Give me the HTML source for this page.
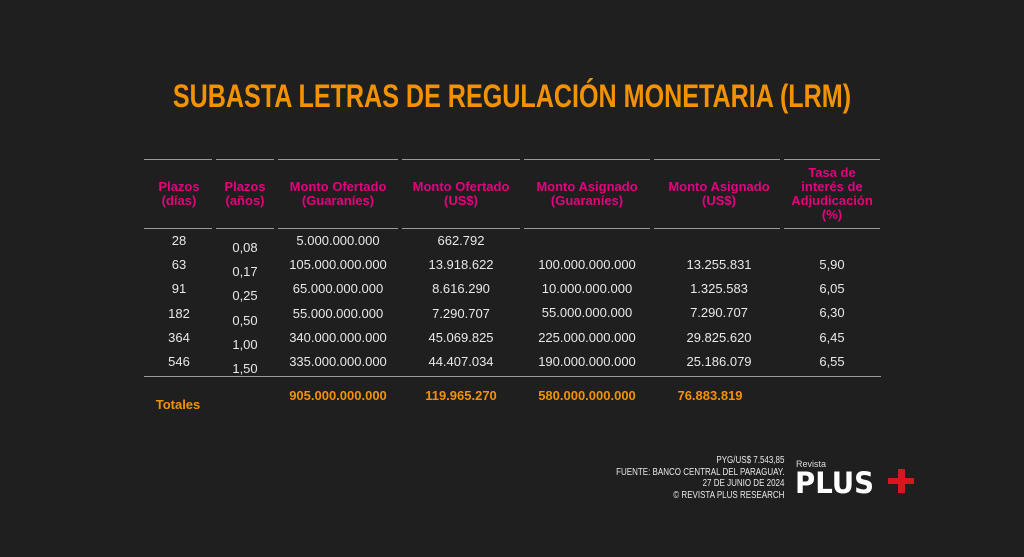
<!DOCTYPE html><html><head><meta charset="utf-8"><style>
body{margin:0;width:1024px;height:557px;background:#1f1f1f;position:relative;overflow:hidden;font-family:"Liberation Sans",sans-serif;}
.t{position:absolute;white-space:nowrap;transform:translateX(-50%);text-align:center}
.h{color:#e5007e;font-weight:bold;font-size:13px;line-height:14px}
.d{color:#e8e8e8;font-size:13px}
.o{color:#f39200;font-weight:bold;font-size:13px}
.l{position:absolute;height:1px;background:#9a9a9a}
</style></head><body>
<div style="position:absolute;left:0;top:78px;width:1024px;text-align:center;"><span style="display:inline-block;white-space:nowrap;color:#f39200;font-weight:bold;font-size:32px;transform:scaleX(0.785);transform-origin:center">SUBASTA LETRAS DE REGULACIÓN MONETARIA (LRM)</span></div>
<div class="l" style="left:144px;width:68px;top:159px"></div>
<div class="l" style="left:216px;width:58px;top:159px"></div>
<div class="l" style="left:278px;width:120px;top:159px"></div>
<div class="l" style="left:402px;width:118px;top:159px"></div>
<div class="l" style="left:524px;width:126px;top:159px"></div>
<div class="l" style="left:654px;width:126px;top:159px"></div>
<div class="l" style="left:784px;width:96px;top:159px"></div>
<div class="l" style="left:144px;width:68px;top:228px"></div>
<div class="l" style="left:216px;width:58px;top:228px"></div>
<div class="l" style="left:278px;width:120px;top:228px"></div>
<div class="l" style="left:402px;width:118px;top:228px"></div>
<div class="l" style="left:524px;width:126px;top:228px"></div>
<div class="l" style="left:654px;width:126px;top:228px"></div>
<div class="l" style="left:784px;width:96px;top:228px"></div>
<div class="l" style="left:144px;width:737px;top:376px"></div>
<div class="t h" style="left:179px;top:180px">Plazos<br>(días)</div>
<div class="t h" style="left:245px;top:180px">Plazos<br>(años)</div>
<div class="t h" style="left:338px;top:180px">Monto Ofertado<br>(Guaraníes)</div>
<div class="t h" style="left:461px;top:180px">Monto Ofertado<br>(US$)</div>
<div class="t h" style="left:587px;top:180px">Monto Asignado<br>(Guaraníes)</div>
<div class="t h" style="left:719px;top:180px">Monto Asignado<br>(US$)</div>
<div class="t h" style="left:832px;top:166px">Tasa de<br>interés de<br>Adjudicación<br>(%)</div>
<div class="t d" style="left:179px;top:229px;line-height:24.2px">28<br>63<br>91<br>182<br>364<br>546</div>
<div class="t d" style="left:245px;top:236px;line-height:24.2px">0,08<br>0,17<br>0,25<br>0,50<br>1,00<br>1,50</div>
<div class="t d" style="left:338px;top:229px;line-height:24.2px">5.000.000.000<br>105.000.000.000<br>65.000.000.000<br>55.000.000.000<br>340.000.000.000<br>335.000.000.000</div>
<div class="t d" style="left:461px;top:229px;line-height:24.2px">662.792<br>13.918.622<br>8.616.290<br>7.290.707<br>45.069.825<br>44.407.034</div>
<div class="t d" style="left:587px;top:253px;line-height:24.2px">100.000.000.000<br>10.000.000.000<br>55.000.000.000<br>225.000.000.000<br>190.000.000.000</div>
<div class="t d" style="left:719px;top:253px;line-height:24.2px">13.255.831<br>1.325.583<br>7.290.707<br>29.825.620<br>25.186.079</div>
<div class="t d" style="left:832px;top:253px;line-height:24.2px">5,90<br>6,05<br>6,30<br>6,45<br>6,55</div>
<div class="t o" style="left:178px;top:397px">Totales</div>
<div class="t o" style="left:338px;top:388px">905.000.000.000</div>
<div class="t o" style="left:461px;top:388px">119.965.270</div>
<div class="t o" style="left:587px;top:388px">580.000.000.000</div>
<div class="t o" style="left:710px;top:388px">76.883.819</div>
<div style="position:absolute;right:240px;top:455px;text-align:right;color:#e8e8e8;font-size:10px;line-height:11.5px;transform:scaleX(0.8);transform-origin:right top;white-space:nowrap">PYG/US$ 7.543,85<br>FUENTE: BANCO CENTRAL DEL PARAGUAY.<br>27 DE JUNIO DE 2024<br>© REVISTA PLUS RESEARCH</div>
<div style="position:absolute;left:796px;top:459px;color:#ddd;font-size:9px">Revista</div>
<div style="position:absolute;left:795px;top:466px;color:#fff;font-weight:bold;font-size:29px;font-family:'DejaVu Sans',sans-serif;transform:scaleX(0.95);transform-origin:left">PLUS</div>
<div style="position:absolute;left:888px;top:478px;width:26px;height:6px;background:#d8161e"></div>
<div style="position:absolute;left:898px;top:469px;width:7px;height:24px;background:#d8161e"></div>
</body></html>
